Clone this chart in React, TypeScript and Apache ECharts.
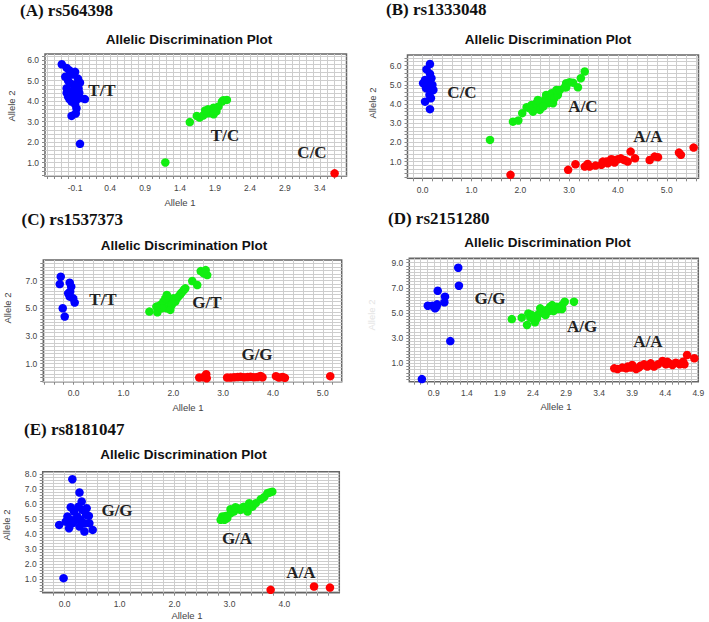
import React, { useEffect, useRef } from 'react';
import * as echarts from 'echarts';

const BLUE = '#0000ff';
const GREEN = '#11ee11';
const RED = '#ff0000';

// ---------- Panel A: rs564398 ----------
const aXTicks = [-0.1, 0.4, 0.9, 1.4, 1.9, 2.4, 2.9, 3.4];
const aYTicks = [1, 2, 3, 4, 5, 6];
const aTT = [[-0.29, 5.8], [-0.22, 5.62], [-0.18, 5.5], [-0.24, 5.19], [-0.1, 5.43], [-0.14, 5.3], [-0.06, 5.1], [-0.2, 5.0], [-0.17, 4.87], [-0.03, 4.9], [-0.12, 4.8], [-0.22, 4.63], [-0.08, 4.7], [-0.1, 4.54], [-0.15, 4.45], [-0.04, 4.4], [-0.2, 4.22], [-0.12, 4.25], [-0.08, 4.06], [0.04, 4.1], [-0.15, 3.98], [-0.02, 4.15], [-0.1, 3.85], [-0.08, 3.65], [-0.09, 3.4], [-0.15, 3.28], [-0.22, 4.4], [-0.18, 4.1], [-0.05, 4.6], [-0.03, 1.92]];
const aTC = [[1.19, 1.01], [1.54, 2.98], [1.64, 3.28], [1.68, 3.2], [1.73, 3.3], [1.8, 3.41], [1.8, 3.6], [1.88, 3.36], [1.88, 3.68], [1.95, 3.74], [2.0, 3.98], [2.02, 4.05], [2.07, 4.06], [1.76, 3.55], [1.92, 3.5]];
const aCC = [[3.61, 0.48]];

// ---------- Panel B: rs1333048 ----------
const bXTicks = [0, 1, 2, 3, 4, 5];
const bYTicks = [1, 2, 3, 4, 5, 6];
const bCC = [[0.15, 6.08], [0.08, 5.8], [0.15, 5.57], [0.05, 5.25], [0.18, 5.34], [0.01, 5.08], [0.12, 4.9], [0.2, 4.99], [0.07, 4.82], [0.22, 4.73], [0.14, 4.47], [0.05, 4.12], [0.17, 4.3], [0.15, 3.73], [0.12, 5.17]];
const bAC = [[1.38, 2.13], [1.85, 3.08], [1.96, 3.14], [2.04, 3.52], [2.13, 3.83], [2.23, 3.95], [2.33, 4.04], [2.3, 3.78], [2.43, 3.95], [2.4, 3.69], [2.5, 4.21], [2.53, 4.47], [2.6, 4.21], [2.64, 4.56], [2.7, 4.3], [2.77, 4.47], [2.74, 4.73], [2.57, 4.04], [2.67, 4.04], [2.47, 3.86], [2.19, 3.78], [2.81, 4.73], [2.94, 4.87], [2.94, 5.08], [3.01, 5.13], [3.08, 5.11], [3.18, 4.87], [3.24, 5.34], [3.32, 5.69], [2.91, 4.87], [2.26, 3.6], [2.36, 4.21]];
const bAA = [[1.8, 0.31], [2.98, 0.57], [3.13, 0.86], [3.32, 0.74], [3.38, 0.88], [3.54, 0.79], [3.66, 0.83], [3.76, 1.0], [3.86, 1.12], [3.93, 0.95], [4.0, 1.12], [4.06, 1.17], [4.13, 1.08], [4.2, 1.0], [4.26, 1.52], [4.35, 1.17], [4.65, 1.08], [4.75, 1.26], [4.82, 1.23], [5.25, 1.47], [5.29, 1.35], [5.55, 1.73], [3.69, 1.0], [3.79, 0.91], [3.9, 1.09], [3.42, 0.74]];

// ---------- Panel C: rs1537373 ----------
const cXTicks = [0, 1, 2, 3, 4, 5];
const cYTicks = [1, 3, 5, 7];
const cTT = [[-0.26, 7.29], [-0.28, 6.76], [-0.08, 6.86], [-0.05, 6.57], [-0.11, 6.09], [-0.08, 5.85], [-0.01, 5.73], [0.02, 5.42], [-0.22, 5.01], [-0.18, 4.41], [-0.07, 6.21]];
const cGT = [[1.52, 4.77], [1.68, 4.72], [1.74, 5.25], [1.8, 5.49], [1.87, 5.01], [1.9, 5.61], [1.94, 5.37], [2.0, 5.73], [2.07, 5.73], [2.14, 6.02], [2.21, 6.33], [1.77, 5.01], [1.84, 5.73], [1.97, 5.25], [2.04, 5.49], [2.1, 5.85], [2.17, 6.16], [2.24, 6.45], [2.38, 6.98], [2.48, 6.69], [2.55, 7.7], [2.65, 7.77], [2.68, 7.41], [2.61, 7.53], [1.66, 5.13], [1.87, 5.97], [1.94, 4.89]];
const cGG = [[2.52, 0.0], [2.6, 0.02], [2.66, 0.24], [2.67, -0.05], [3.08, 0.0], [3.15, 0.0], [3.22, 0.02], [3.29, 0.04], [3.35, 0.06], [3.42, 0.02], [3.49, 0.04], [3.55, 0.06], [3.62, 0.02], [3.69, 0.04], [3.75, 0.12], [3.79, 0.02], [4.06, 0.1], [4.12, 0.0], [4.19, 0.04], [4.24, -0.02], [5.15, 0.1]];

// ---------- Panel D: rs2151280 ----------
const dXTicks = [0.9, 1.4, 1.9, 2.4, 2.9, 3.4, 3.9, 4.4, 4.9];
const dYTicks = [1, 3, 5, 7, 9];
const dGG = [[0.72, -0.25], [0.81, 5.58], [0.88, 5.58], [0.95, 5.69], [0.94, 5.5], [0.96, 6.77], [1.07, 6.3], [1.06, 5.85], [1.15, 2.77], [1.27, 8.6], [1.28, 7.17], [0.92, 5.37]];
const dAG = [[2.08, 4.52], [2.23, 4.63], [2.31, 4.05], [2.33, 4.97], [2.41, 4.58], [2.43, 4.26], [2.48, 4.89], [2.51, 5.37], [2.56, 4.97], [2.61, 5.24], [2.66, 5.5], [2.71, 5.16], [2.76, 5.5], [2.84, 5.63], [2.88, 5.9], [2.84, 5.32], [3.02, 5.9], [2.38, 4.84], [2.46, 4.58], [2.59, 4.84], [2.64, 5.16], [2.79, 5.32], [2.36, 4.63], [2.69, 5.63]];
const dAA = [[3.63, 0.6], [3.68, 0.55], [3.75, 0.66], [3.83, 0.74], [3.9, 0.87], [3.96, 0.55], [4.03, 0.81], [4.08, 0.92], [4.13, 0.74], [4.18, 1.0], [4.23, 0.74], [4.29, 0.92], [4.36, 1.19], [4.41, 0.92], [4.46, 1.0], [4.51, 0.87], [4.56, 1.05], [4.62, 0.92], [4.67, 1.13], [4.73, 1.66], [4.84, 1.4], [3.81, 0.6], [3.88, 0.66], [4.0, 0.66], [4.43, 1.13], [4.69, 0.92]];

// ---------- Panel E: rs8181047 ----------
const eXTicks = [0, 1, 2, 3, 4];
const eYTicks = [1, 2, 3, 4, 5, 6, 7, 8];
const eGG = [[-0.1, 4.62], [-0.02, 1.07], [0.14, 7.67], [0.27, 6.78], [0.11, 5.8], [0.31, 6.18], [0.05, 5.18], [0.08, 4.4], [0.2, 4.96], [0.17, 5.51], [0.32, 5.62], [0.39, 5.29], [0.44, 5.22], [0.36, 4.73], [0.36, 4.18], [0.51, 4.29], [0.27, 4.51], [0.45, 4.73], [0.23, 5.18], [0.29, 4.96], [0.14, 4.73], [0.02, 4.84], [0.25, 5.84], [0.4, 5.73], [0.11, 4.96]];
const eGA = [[2.84, 4.96], [2.87, 5.18], [2.93, 5.22], [3.02, 5.4], [3.02, 5.67], [3.08, 5.51], [3.14, 5.73], [3.2, 5.62], [3.26, 5.84], [3.33, 5.73], [3.36, 6.07], [3.42, 5.84], [3.48, 6.07], [3.57, 6.33], [3.63, 6.47], [3.69, 6.73], [3.78, 6.84], [3.73, 6.78], [2.91, 4.96], [2.96, 5.07], [3.11, 5.8], [3.23, 5.73], [3.33, 5.51]];
const eAA = [[3.75, 0.29], [4.54, 0.51], [4.83, 0.44]];

const TITLE = 'Allelic Discrimination Plot';

type Panel = {
  heading: string; hx: number; hy: number;
  left: number; top: number; width: number; height: number;
  xMin: number; xMax: number; yMin: number; yMax: number;
  xTicks: number[]; yTicks: number[]; xStep: number; yStep: number;
  series: { data: number[][]; color: string }[];
  labels: { text: string; x: number; y: number }[];
  tx: number; ty: number;
  xName?: [number, number]; yName?: [number, number]; yNameColor?: string;
};

const panels: Panel[] = [
  {
    heading: '(A) rs564398', hx: 20, hy: 10,
    left: 45, top: 54, width: 301.5, height: 122,
    xMin: -0.53, xMax: 3.78, yMin: 0.35, yMax: 6.3,
    xTicks: aXTicks, yTicks: aYTicks, xStep: 0.1, yStep: 0.2,
    series: [{ data: aTT, color: BLUE }, { data: aTC, color: GREEN }, { data: aCC, color: RED }],
    labels: [{ text: 'T/T', x: 102, y: 90 }, { text: 'T/C', x: 225, y: 135 }, { text: 'C/C', x: 312, y: 152 }],
    tx: 189, ty: 39, xName: [180, 202], yName: [11, 106],
  },
  {
    heading: '(B) rs1333048', hx: 386, hy: 9,
    left: 407.5, top: 55, width: 291, height: 123.3,
    xMin: -0.31, xMax: 5.65, yMin: 0.13, yMax: 6.55,
    xTicks: bXTicks, yTicks: bYTicks, xStep: 0.2, yStep: 0.2,
    series: [{ data: bCC, color: BLUE }, { data: bAC, color: GREEN }, { data: bAA, color: RED }],
    labels: [{ text: 'C/C', x: 462, y: 92 }, { text: 'A/C', x: 583, y: 106 }, { text: 'A/A', x: 648, y: 136 }],
    tx: 548, ty: 39, yName: [372, 103],
  },
  {
    heading: '(C) rs1537373', hx: 21.5, hy: 219.5,
    left: 43.3, top: 260, width: 298.4, height: 121.7,
    xMin: -0.61, xMax: 5.38, yMin: -0.3, yMax: 8.5,
    xTicks: cXTicks, yTicks: cYTicks, xStep: 0.2, yStep: 0.25,
    series: [{ data: cTT, color: BLUE }, { data: cGT, color: GREEN }, { data: cGG, color: RED }],
    labels: [{ text: 'T/T', x: 103, y: 299 }, { text: 'G/T', x: 207, y: 302 }, { text: 'G/G', x: 257, y: 354 }],
    tx: 184, ty: 245, xName: [188, 407], yName: [7, 308],
  },
  {
    heading: '(D) rs2151280', hx: 388, hy: 218.3,
    left: 409.3, top: 258.3, width: 289, height: 123.4,
    xMin: 0.53, xMax: 4.9, yMin: -0.46, yMax: 9.35,
    xTicks: dXTicks, yTicks: dYTicks, xStep: 0.1, yStep: 0.25,
    series: [{ data: dGG, color: BLUE }, { data: dAG, color: GREEN }, { data: dAA, color: RED }],
    labels: [{ text: 'G/G', x: 490, y: 298 }, { text: 'A/G', x: 582, y: 326 }, { text: 'A/A', x: 648, y: 341 }],
    tx: 547.5, ty: 242.3, xName: [556, 406], yName: [371, 315], yNameColor: '#e4e4e4',
  },
  {
    heading: '(E) rs8181047', hx: 24, hy: 429.7,
    left: 42.7, top: 471.7, width: 296.6, height: 121,
    xMin: -0.4, xMax: 5.0, yMin: 0.1, yMax: 8.17,
    xTicks: eXTicks, yTicks: eYTicks, xStep: 0.2, yStep: 0.2,
    series: [{ data: eGG, color: BLUE }, { data: eGA, color: GREEN }, { data: eAA, color: RED }],
    labels: [{ text: 'G/G', x: 117, y: 510 }, { text: 'G/A', x: 237, y: 538 }, { text: 'A/A', x: 301, y: 572 }],
    tx: 183.5, ty: 454.3, xName: [187, 615], yName: [6, 525],
  },
];

// positions of the fine grid lines (style only, not data)
function gridValues(min: number, max: number, step: number): number[] {
  const out: number[] = [];
  const start = Math.ceil(min / step + 1e-6);
  const end = Math.floor(max / step - 1e-6);
  for (let i = start; i <= end; i++) out.push(Math.round(i * step * 1000) / 1000);
  return out;
}

const SANS = '"Liberation Sans", Arial, sans-serif';
const SERIF = '"Liberation Serif", "Times New Roman", serif';

export default function App() {
  const ref = useRef<HTMLDivElement>(null);
  useEffect(() => {
    if (!ref.current) return;
    const chart = echarts.init(ref.current, undefined, { renderer: 'svg' });
    const grid: any[] = [];
    const xAxis: any[] = [];
    const yAxis: any[] = [];
    const series: any[] = [];
    const graphic: any[] = [];
    panels.forEach((p, i) => {
      grid.push({
        left: p.left, top: p.top, width: p.width, height: p.height,
        show: true, backgroundColor: '#ffffff', borderColor: '#666666', borderWidth: 1.5,
      });
      const xs = gridValues(p.xMin, p.xMax, p.xStep);
      const ys = gridValues(p.yMin, p.yMax, p.yStep);
      const common = {
        axisLine: { show: false, onZero: false },
        splitLine: { show: false },
        axisLabel: { fontSize: 8.5, color: '#444', fontFamily: SANS, formatter: (v: number) => v.toFixed(1) },
      };
      xAxis.push({
        type: 'value', gridIndex: i, min: p.xMin, max: p.xMax, position: 'bottom',
        ...common,
        axisTick: { show: true, length: 3, lineStyle: { color: '#888', width: 1 }, customValues: xs },
        axisLabel: { ...common.axisLabel, margin: 7, customValues: p.xTicks },
      });
      yAxis.push({
        type: 'value', gridIndex: i, min: p.yMin, max: p.yMax, position: 'left',
        ...common,
        axisTick: { show: true, length: 3, lineStyle: { color: '#888', width: 1 }, customValues: ys },
        axisLabel: { ...common.axisLabel, margin: 6, customValues: p.yTicks },
      });
      // fine grid drawn through the axes' scales
      series.push({
        type: 'scatter', xAxisIndex: i, yAxisIndex: i, data: [], z: 1, silent: true,
        markLine: {
          z: 1, silent: true, symbol: ['none', 'none'], animation: false,
          label: { show: false },
          lineStyle: { color: '#cdcdcd', width: 1, type: 'solid' },
          emphasis: { disabled: true },
          data: [...xs.map((v) => ({ xAxis: v })), ...ys.map((v) => ({ yAxis: v }))],
        },
      });
      p.series.forEach((s) => {
        series.push({
          type: 'scatter', xAxisIndex: i, yAxisIndex: i, data: s.data, z: 10,
          symbolSize: 8.5, itemStyle: { color: s.color, opacity: 1 },
          clip: true,
        });
      });
      graphic.push({
        type: 'text', x: p.hx, y: p.hy,
        style: { text: p.heading, font: `bold 17px ${SERIF}`, fill: '#111', align: 'left', verticalAlign: 'middle' },
      });
      graphic.push({
        type: 'text', x: p.tx, y: p.ty,
        style: { text: TITLE, font: `bold 13.5px ${SANS}`, fill: '#111', align: 'center', verticalAlign: 'middle' },
      });
      p.labels.forEach((l) => {
        graphic.push({
          type: 'text', x: l.x, y: l.y, z: 100,
          style: { text: l.text, font: `bold 17px ${SERIF}`, fill: '#222', align: 'center', verticalAlign: 'middle' },
        });
      });
      if (p.xName) {
        graphic.push({
          type: 'text', x: p.xName[0], y: p.xName[1],
          style: { text: 'Allele 1', font: `9.5px ${SANS}`, fill: '#444', align: 'center', verticalAlign: 'middle' },
        });
      }
      if (p.yName) {
        graphic.push({
          type: 'text', x: p.yName[0], y: p.yName[1], rotation: Math.PI / 2,
          style: { text: 'Allele 2', font: `9.5px ${SANS}`, fill: p.yNameColor || '#444', align: 'center', verticalAlign: 'middle' },
        });
      }
    });
    chart.setOption({
      animation: false,
      backgroundColor: '#ffffff',
      grid, xAxis, yAxis, series, graphic,
    });
    return () => chart.dispose();
  }, []);
  return (
    <div
      ref={ref}
      style={{ position: 'fixed', left: 0, top: 0, width: 709, height: 622, background: '#fff' }}
    />
  );
}
